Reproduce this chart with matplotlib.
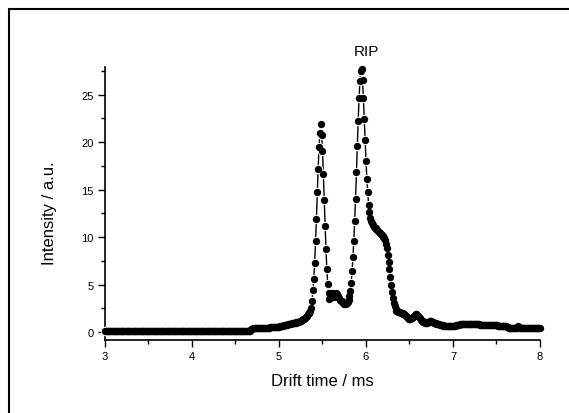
import numpy as np
import matplotlib.pyplot as plt
from matplotlib.patches import Rectangle
from matplotlib.ticker import MultipleLocator

plt.rcParams['font.family'] = ['Liberation Sans', 'DejaVu Sans']

# Drift spectrum, sampled every 0.01 ms from 3.00 ms (one row = 0.1 ms)
t_start = 3.00
t_step = 0.01
intensity = [
    0.15, 0.15, 0.15, 0.15, 0.15, 0.15, 0.15, 0.15, 0.15, 0.15,  # 3.0
    0.15, 0.15, 0.15, 0.15, 0.15, 0.15, 0.15, 0.15, 0.15, 0.15,  # 3.1
    0.15, 0.15, 0.15, 0.15, 0.15, 0.15, 0.15, 0.15, 0.15, 0.15,  # 3.2
    0.15, 0.15, 0.15, 0.15, 0.15, 0.15, 0.15, 0.15, 0.15, 0.15,  # 3.3
    0.15, 0.15, 0.15, 0.15, 0.15, 0.15, 0.15, 0.15, 0.15, 0.15,  # 3.4
    0.15, 0.15, 0.15, 0.15, 0.15, 0.15, 0.15, 0.15, 0.15, 0.15,  # 3.5
    0.15, 0.15, 0.15, 0.15, 0.15, 0.15, 0.15, 0.15, 0.15, 0.15,  # 3.6
    0.15, 0.15, 0.15, 0.15, 0.15, 0.15, 0.15, 0.15, 0.15, 0.15,  # 3.7
    0.15, 0.15, 0.15, 0.15, 0.15, 0.15, 0.15, 0.15, 0.15, 0.15,  # 3.8
    0.15, 0.15, 0.15, 0.15, 0.15, 0.15, 0.15, 0.15, 0.15, 0.15,  # 3.9
    0.15, 0.15, 0.15, 0.15, 0.15, 0.15, 0.15, 0.15, 0.15, 0.15,  # 4.0
    0.15, 0.15, 0.15, 0.15, 0.15, 0.15, 0.15, 0.15, 0.15, 0.15,  # 4.1
    0.15, 0.15, 0.15, 0.15, 0.15, 0.15, 0.15, 0.15, 0.15, 0.15,  # 4.2
    0.15, 0.15, 0.15, 0.15, 0.15, 0.15, 0.15, 0.15, 0.15, 0.15,  # 4.3
    0.15, 0.15, 0.15, 0.15, 0.15, 0.15, 0.15, 0.15, 0.15, 0.15,  # 4.4
    0.15, 0.15, 0.15, 0.15, 0.15, 0.15, 0.15, 0.15, 0.15, 0.15,  # 4.5
    0.15, 0.15, 0.15, 0.15, 0.15, 0.15, 0.15, 0.15, 0.3, 0.35,   # 4.6
    0.4, 0.4, 0.4, 0.4, 0.4, 0.4, 0.4, 0.4, 0.4, 0.4,            # 4.7
    0.45, 0.45, 0.45, 0.45, 0.45, 0.45, 0.45, 0.45, 0.45, 0.45,  # 4.8
    0.5, 0.5, 0.5, 0.5, 0.5, 0.5, 0.5, 0.5, 0.5, 0.5,            # 4.9
    0.55, 0.6, 0.6, 0.62, 0.65, 0.68, 0.7, 0.72, 0.75, 0.77,     # 5.0
    0.8, 0.8, 0.82, 0.85, 0.87, 0.9, 0.92, 0.95, 0.97, 1.0,      # 5.1
    1.02, 1.05, 1.08, 1.1, 1.15, 1.2, 1.25, 1.3, 1.35, 1.4,      # 5.2
    1.5, 1.6, 1.7, 1.85, 1.95, 2.05, 2.2, 2.5, 3.3, 4.4,         # 5.3
    5.6, 7.3, 9.6, 11.9, 14.7, 17.2, 19.5, 20.9, 21.9, 20.7,     # 5.4
    19.1, 16.6, 13.9, 11.2, 8.7, 6.6, 5.1, 4.1, 3.5, 3.6,        # 5.5
    4.0, 4.1, 3.9, 3.7, 3.8, 4.0, 4.1, 4.0, 3.8, 3.6,            # 5.6
    3.4, 3.3, 3.3, 3.2, 3.1, 3.0, 3.0, 3.0, 3.1, 3.2,            # 5.7
    3.4, 3.8, 4.3, 5.2, 6.4, 7.9, 9.6, 11.7, 14.0, 16.8,         # 5.8
    19.6, 22.2, 24.6, 26.4, 27.5, 27.7, 26.5, 24.6, 22.4, 20.2,  # 5.9
    18.0, 16.1, 14.7, 13.4, 12.6, 12.0, 11.7, 11.5, 11.3, 11.1,  # 6.0
    11.0, 10.9, 10.8, 10.7, 10.6, 10.5, 10.4, 10.3, 10.2, 10.1,  # 6.1
    10.0, 9.9, 9.7, 9.3, 8.8, 8.1, 7.4, 6.6, 5.8, 5.0,           # 6.2
    4.2, 3.6, 3.1, 2.7, 2.4, 2.25, 2.2, 2.15, 2.1, 2.1,          # 6.3
    2.0, 2.0, 1.95, 1.9, 1.9, 1.8, 1.7, 1.6, 1.5, 1.4,           # 6.4
    1.4, 1.4, 1.45, 1.5, 1.6, 1.7, 1.8, 1.85, 1.85, 1.8,         # 6.5
    1.7, 1.6, 1.45, 1.3, 1.2, 1.15, 1.1, 1.05, 1.0, 1.0,         # 6.6
    1.0, 1.05, 1.1, 1.15, 1.15, 1.15, 1.1, 1.05, 1.0, 0.95,      # 6.7
    0.9, 0.85, 0.85, 0.8, 0.8, 0.75, 0.75, 0.7, 0.7, 0.65,       # 6.8
    0.65, 0.65, 0.6, 0.6, 0.6, 0.6, 0.6, 0.6, 0.62, 0.65,        # 6.9
    0.65, 0.65, 0.68, 0.7, 0.72, 0.75, 0.75, 0.78, 0.8, 0.8,     # 7.0
    0.8, 0.8, 0.8, 0.8, 0.8, 0.8, 0.8, 0.8, 0.8, 0.8,            # 7.1
    0.8, 0.8, 0.8, 0.8, 0.8, 0.8, 0.8, 0.8, 0.8, 0.8,            # 7.2
    0.8, 0.78, 0.75, 0.75, 0.75, 0.72, 0.7, 0.7, 0.7, 0.7,       # 7.3
    0.7, 0.7, 0.7, 0.7, 0.7, 0.7, 0.7, 0.7, 0.7, 0.7,            # 7.4
    0.7, 0.7, 0.68, 0.68, 0.65, 0.65, 0.65, 0.65, 0.62, 0.62,    # 7.5
    0.6, 0.6, 0.55, 0.5, 0.45, 0.42, 0.4, 0.4, 0.4, 0.4,         # 7.6
    0.4, 0.4, 0.4, 0.42, 0.5, 0.65, 0.55, 0.45, 0.4, 0.4,        # 7.7
    0.4, 0.4, 0.4, 0.4, 0.4, 0.4, 0.4, 0.4, 0.4, 0.4,            # 7.8
    0.4, 0.4, 0.4, 0.4, 0.4, 0.4, 0.4, 0.4, 0.4, 0.4,            # 7.9
    0.4,                                                         # 8.0
]
drift_time = t_start + t_step * np.arange(len(intensity))

x_ticks = [3, 4, 5, 6, 7, 8]
y_ticks = [0, 5, 10, 15, 20, 25]

fig = plt.figure(figsize=(5.69, 4.14), dpi=100)

# frame around the whole page (only left/top edges fall inside the image)
fig.add_artist(Rectangle((9 / 569, -0.1), 1.2, 1 - 9.5 / 414 + 0.1,
                         transform=fig.transFigure, fill=False,
                         edgecolor='black', linewidth=1.5))

ax = fig.add_axes([105 / 569, 73 / 414, 435 / 569, 273 / 414])

# line, white gap around symbols, then black symbols
ax.plot(drift_time, intensity, color='black', linewidth=1.0, zorder=2, clip_on=False)
ax.plot(drift_time, intensity, linestyle='none', marker='o', markersize=6.8,
        markerfacecolor='white', markeredgecolor='none', zorder=3, clip_on=False)
ax.plot(drift_time, intensity, linestyle='none', marker='o', markersize=5.3,
        markerfacecolor='black', markeredgecolor='none', zorder=4, clip_on=False)

ax.set_xlim(3, 8)
ax.set_ylim(-0.84, 27.9)
ax.set_xticks(x_ticks)
ax.set_yticks(y_ticks)
ax.xaxis.set_minor_locator(MultipleLocator(0.5))
ax.yaxis.set_minor_locator(MultipleLocator(2.5))

for side in ['top', 'right']:
    ax.spines[side].set_visible(False)
for side in ['left', 'bottom']:
    ax.spines[side].set_linewidth(1.2)

ax.tick_params(which='major', direction='out', length=5, width=1, labelsize=8, pad=3)
ax.tick_params(which='minor', direction='out', length=3, width=1)

ax.set_xlabel('Drift time / ms', fontsize=12)
ax.set_ylabel('Intensity / a.u.', fontsize=12)
ax.xaxis.set_label_coords(0.5, -0.12)
ax.yaxis.set_label_coords(-0.11, 0.467)

ax.text(6.0, 29.6, 'RIP', fontsize=11, ha='center', va='center', clip_on=False)

fig.savefig('out.png', dpi=100)
